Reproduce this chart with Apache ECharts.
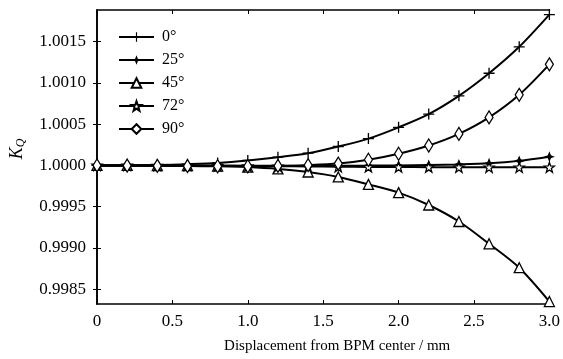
<!DOCTYPE html>
<html><head><meta charset="utf-8">
<script src="https://cdn.jsdelivr.net/npm/echarts@6/dist/echarts.min.js"></script>
<style>html,body{margin:0;padding:0;background:#fff}#c{width:563px;height:359px}</style>
</head><body><div id="c"></div>
<script>
const xValues = [0,0.2,0.4,0.6,0.8,1.0,1.2,1.4,1.6,1.8,2.0,2.2,2.4,2.6,2.8,3.0];
const seriesNames = ['0°','25°','45°','72°','90°'];
const k0  = [1.000000,1.000001,1.000005,1.000015,1.000030,1.000060,1.000100,1.000148,1.000229,1.000325,1.000462,1.000622,1.000843,1.001117,1.001438,1.001828];
const k25 = [1.000000,1.000000,0.999998,0.999997,0.999996,0.999995,0.999995,0.999996,0.999997,0.999998,1.000000,1.000005,1.000012,1.000025,1.000055,1.000105];
const k45 = [1.000000,1.000000,0.999999,0.999997,0.999992,0.999980,0.999957,0.999920,0.999860,0.999770,0.999670,0.999520,0.999320,0.999050,0.998760,0.998350];
const k72 = [1.000000,1.000000,0.999999,0.999998,0.999996,0.999993,0.999990,0.999987,0.999984,0.999982,0.999980,0.999979,0.999978,0.999978,0.999978,0.999978];
const k90 = [1.000000,0.999998,0.999995,0.999992,0.999990,0.999990,0.999994,1.000003,1.000022,1.000069,1.000141,1.000241,1.000382,1.000582,1.000856,1.001225];
const xTicks = [0,0.5,1.0,1.5,2.0,2.5,3.0];
const xTickLabels = ['0','0.5','1.0','1.5','2.0','2.5','3.0'];
const yTicks = [0.9985,0.9990,0.9995,1.0000,1.0005,1.0010,1.0015];
const yTickLabels = ['0.9985','0.9990','0.9995','1.0000','1.0005','1.0010','1.0015'];
const allK = [k0,k25,k45,k72,k90];

const FONT = '"Liberation Serif","DejaVu Serif",serif';
const plusPath = 'path://M-0.6,-5H0.6V-0.6H5V0.6H0.6V5H-0.6V0.6H-5V-0.6H-0.6Z';
const star4Path = 'path://M0,-6L1.7,-1.7L6,0L1.7,1.7L0,6L-1.7,1.7L-6,0L-1.7,-1.7Z';
const star5Path = 'path://M0,-10L2.35,-3.24L9.51,-3.09L3.8,1.24L5.88,8.09L0,4L-5.88,8.09L-3.8,1.24L-9.51,-3.09L-2.35,-3.24Z';
const symbols = [
  {symbol: plusPath, size: 11, item: {color:'#000'}},
  {symbol: star4Path, size: 11, item: {color:'#000'}},
  {symbol: 'triangle', size: 10, item: {color:'#fff', borderColor:'#000', borderWidth:1.3}},
  {symbol: star5Path, size: 10, item: {color:'#fff', borderColor:'#000', borderWidth:1.3}},
  {symbol: 'diamond', size: [8,13], item: {color:'#fff', borderColor:'#000', borderWidth:1.3}}
];

const series = seriesNames.map((n,i)=>({
  name: n, type: 'line', xAxisIndex: 0, yAxisIndex: 0,
  data: xValues.map((x,j)=>[x, allK[i][j]]),
  smooth: 0.3, symbol: symbols[i].symbol, symbolSize: symbols[i].size,
  showAllSymbol: true,
  itemStyle: symbols[i].item,
  lineStyle: {color:'#000', width:2},
  emphasis: {disabled:true}, animation:false
}));

const chart = echarts.init(document.getElementById('c'), null, {renderer:'canvas'});
const axisLine = {show:true, lineStyle:{color:'#000', width:1.6}};
chart.setOption({
  animation:false,
  grid: {left:94, right:10, top:10, bottom:52, containLabel:false},
  legend: {
    orient:'vertical', left:113, top:24, itemWidth:35, itemHeight:12, itemGap:7,
    data: seriesNames,
    textStyle:{fontFamily:FONT, fontSize:16, color:'#000', padding:[0,0,0,3]}
  },
  xAxis: [
    {type:'value', min:0, max:3, position:'bottom',
     name:'Displacement from BPM center / mm', nameLocation:'middle', nameGap:35,
     nameTextStyle:{fontFamily:FONT, fontSize:15, color:'#000', padding:[0,0,0,28]},
     axisLine: axisLine, splitLine:{show:false},
     axisTick:{inside:true, length:4, lineStyle:{color:'#000'}, customValues:xTicks},
     axisLabel:{fontFamily:FONT, fontSize:17, color:'#000', margin:9, customValues:xTicks,
       formatter:(v)=>xTickLabels[xTicks.findIndex(t=>Math.abs(t-v)<1e-9)]}},
    {type:'value', min:0, max:3, position:'top',
     axisLine: axisLine, splitLine:{show:false},
     axisTick:{inside:true, length:4, lineStyle:{color:'#000'}, customValues:xTicks},
     axisLabel:{show:false}}
  ],
  yAxis: [
    {type:'value', min:0.99832, max:1.001884, position:'left',
     name:'{k|K}{q|Q}', nameLocation:'middle', nameGap:70, nameRotate:90,
     nameTextStyle:{padding:[0,0,0,16], rich:{
       k:{fontFamily:FONT, fontStyle:'italic', fontSize:18, color:'#000'},
       q:{fontFamily:FONT, fontStyle:'italic', fontSize:12, color:'#000', padding:[8,0,0,0]}}},
     axisLine: axisLine, splitLine:{show:false},
     axisTick:{inside:true, length:4, lineStyle:{color:'#000'}, customValues:yTicks},
     axisLabel:{fontFamily:FONT, fontSize:17, color:'#000', margin:11, customValues:yTicks,
       formatter:(v)=>yTickLabels[yTicks.findIndex(t=>Math.abs(t-v)<1e-9)]}},
    {type:'value', min:0.99832, max:1.001884, position:'right',
     axisLine: axisLine, splitLine:{show:false},
     axisTick:{inside:true, length:4, lineStyle:{color:'#000'}, customValues:yTicks},
     axisLabel:{show:false}}
  ],
  series: series
});
</script></body></html>
